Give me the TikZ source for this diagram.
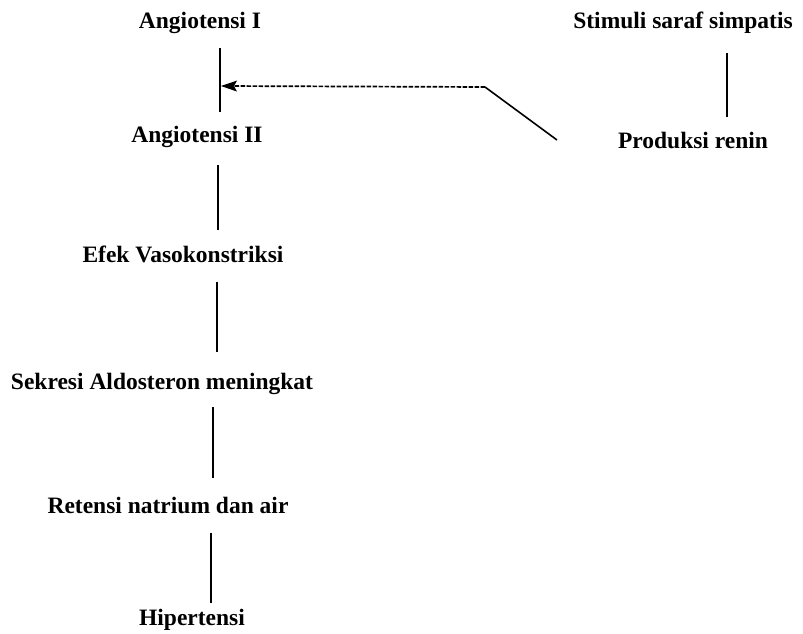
\documentclass[tikz,border=0pt]{standalone}
\usepackage{fontspec}
\setmainfont{Liberation Serif}
\usetikzlibrary{arrows.meta,calc}
\tikzset{
  lbl/.style={anchor=base,inner sep=0pt,font=\bfseries\fontsize{23.5}{26}\selectfont},
  link/.style={line width=1.6pt},
  dlink/.style={line width=1.7pt,dash pattern=on 4.5pt off 1.5pt},
}
\begin{document}
\begin{tikzpicture}[x=1pt,y=-1pt]
\useasboundingbox (0,0) rectangle (803,634);
\node[lbl] (a1) at (200,29) {Angiotensi I};
\node[lbl] (a2) at (197,142) {Angiotensi II};
\node[lbl] (ef) at (183,262) {Efek Vasokonstriksi};
\node[lbl] (sk) at (162,389) {Sekresi Aldosteron meningkat};
\node[lbl] (rt) at (168,513) {Retensi natrium dan air};
\node[lbl] (hp) at (192,625) {Hipertensi};
\node[lbl] (st) at (683,29) {Stimuli saraf simpatis};
\node[lbl] (pr) at (693,148) {Produksi renin};
\draw[link] ($(a1.base)+(20,19)$) -- ($(a2.base)+(23,-30)$);
\draw[link] ($(a2.base)+(21,23)$) -- ($(ef.base)+(35,-32)$);
\draw[link] ($(ef.base)+(34,20)$) -- ($(sk.base)+(55,-37)$);
\draw[link] ($(sk.base)+(51,18)$) -- ($(rt.base)+(45,-35)$);
\draw[link] ($(rt.base)+(43,20)$) -- ($(hp.base)+(19,-22)$);
\draw[link] ($(st.base)+(44,24)$) -- ($(pr.base)+(34,-31)$);
\coordinate (tip) at ($(a1.base)+(21,57)$);
\coordinate (bend) at ($(pr.base)+(-208,-61)$);
\draw[link] ($(pr.base)+(-136,-8)$) -- (bend);
\draw[dlink,-{Stealth[length=16pt,width=11pt,inset=3pt,line width=0pt]}] (bend) -- (tip);
\end{tikzpicture}
\end{document}
